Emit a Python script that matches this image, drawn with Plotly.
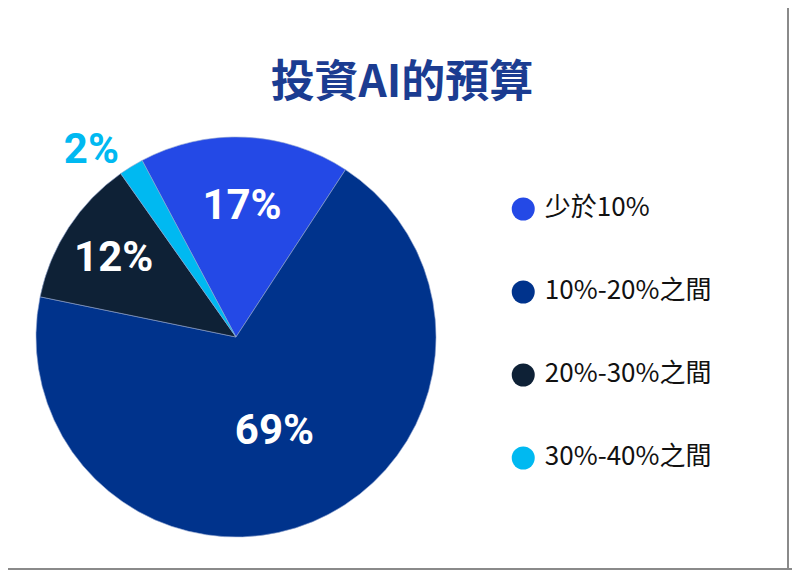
import plotly.graph_objects as go

# ---- data ----
categories = ["少於10%", "10%-20%之間", "20%-30%之間", "30%-40%之間"]
shares = [17, 69, 12, 2]
slice_text = ["17%", "69%", "12%", "2%"]
colors = ["#2449e6", "#00338c", "#0e2136", "#00b9f1"]
title_text = "投資AI的預算"

legend_x = [0, 0, 0, 0]
legend_y = [0, 1, 2, 3]
legend_text_x = [0.25, 0.25, 0.25, 0.25]

# the page puts the plot 8px in from the top-left corner, so size the
# figure to what is visible and lay it out in screen pixels
W, H, OFF = 792, 562, 8


def px_x(x):
    return (x - OFF) / W


def px_y(y):
    return 1 - (y - OFF) / H


LABEL_FONT = "Roboto, Liberation Sans Narrow, sans-serif"

fig = go.Figure()

# pie
fig.add_trace(
    go.Pie(
        labels=categories,
        values=shares,
        text=slice_text,
        texttemplate="%{text}",
        sort=False,
        direction="clockwise",
        rotation=-28,
        marker=dict(colors=colors, line=dict(color="#8fa3cf", width=0.6)),
        textposition=["inside", "inside", "inside", "outside"],
        insidetextorientation="horizontal",
        insidetextfont=dict(color="white", size=42, family=LABEL_FONT, weight="bold"),
        outsidetextfont=dict(color=colors[3], size=42, family=LABEL_FONT, weight="bold"),
        domain=dict(x=[px_x(36), px_x(436)], y=[px_y(537), px_y(137)]),
        showlegend=False,
        hoverinfo="label+percent",
    )
)

# hand-drawn legend (round markers, wide spacing)
fig.add_trace(
    go.Scatter(
        x=legend_x,
        y=legend_y,
        mode="markers",
        marker=dict(size=23, color=colors),
        hoverinfo="skip",
        showlegend=False,
        cliponaxis=False,
    )
)
fig.add_trace(
    go.Scatter(
        x=legend_text_x,
        y=legend_y,
        mode="text",
        text=categories,
        textposition="middle right",
        textfont=dict(size=26, color="#111111",
                      family="Noto Sans CJK TC, Noto Sans, sans-serif"),
        hoverinfo="skip",
        showlegend=False,
        cliponaxis=False,
    )
)

# y axis in screen pixels: item 0 at y=209, item 3 at y=458
y_per_px = 3 / (458 - 209)
fig.update_xaxes(domain=[px_x(480), 1.0], range=[-0.5, 3.2], visible=False, fixedrange=True)
fig.update_yaxes(domain=[0, 1],
                 range=[(OFF + H - 209) * y_per_px, (OFF - 209) * y_per_px],
                 visible=False, fixedrange=True)

fig.update_layout(
    width=W,
    height=H,
    margin=dict(l=0, r=0, t=0, b=0),
    paper_bgcolor="white",
    plot_bgcolor="white",
    title=dict(
        text=f"<b>{title_text}</b>",
        x=px_x(402),
        xanchor="center",
        y=px_y(82),
        yanchor="middle",
        font=dict(size=44, color="#1b3c91", family="Noto Sans CJK TC, sans-serif"),
    ),
    shapes=[
        dict(type="line", xref="paper", yref="paper", x0=px_x(788), x1=px_x(788), y0=0, y1=1,
             line=dict(color="#8a8a8a", width=2)),
        dict(type="line", xref="paper", yref="paper", x0=0, x1=1, y0=px_y(569), y1=px_y(569),
             line=dict(color="#8a8a8a", width=2)),
    ],
)

fig.write_html("out.html")
